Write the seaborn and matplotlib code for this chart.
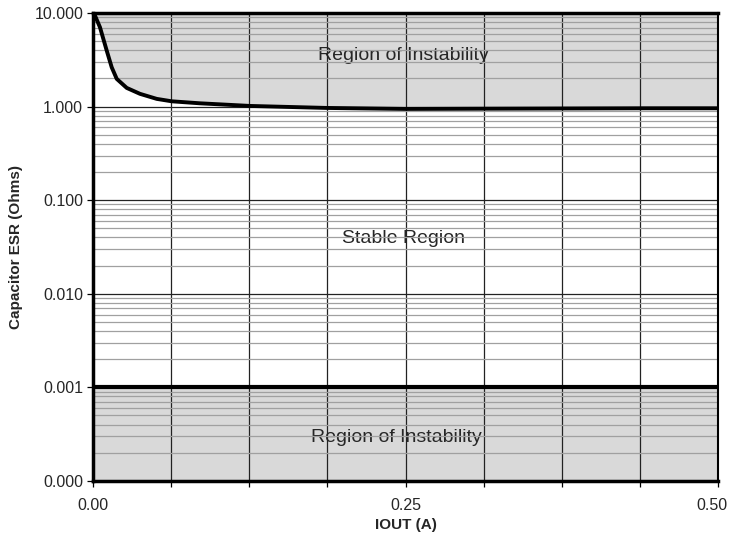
import numpy as np
import pandas as pd
import seaborn as sns
import matplotlib.pyplot as plt
import matplotlib.transforms as mtransforms
from matplotlib.ticker import FormatStrFormatter, MultipleLocator, LogLocator

# boundary curve
iout = [0.0, 0.0016, 0.0056, 0.011, 0.015, 0.019, 0.027, 0.0376, 0.051, 0.063,
        0.0856, 0.1256, 0.187, 0.25, 0.31, 0.375, 0.44, 0.5]
esr = [10.0, 9.4, 7.05, 3.97, 2.63, 1.98, 1.585, 1.37, 1.21, 1.14,
       1.085, 1.017, 0.968, 0.945, 0.95, 0.955, 0.96, 0.96]
esr_min = 0.001
y_lo, y_hi = 0.0001, 10.0

sns.set_style("white")
plt.rcParams['font.family'] = ['Liberation Sans', 'DejaVu Sans']

df = pd.DataFrame({"iout": iout, "esr": esr})

fig = plt.figure(figsize=(7.32, 5.44), dpi=100)
ax = fig.add_axes([0.127, 0.116, 0.854, 0.860])

shade = "#d9d9d9"
ax.fill_between(df["iout"], df["esr"], y_hi, color=shade, lw=0, zorder=0)
ax.fill_between([0, 0.5], y_lo, esr_min, color=shade, lw=0, zorder=0)

ax.set_yscale("log")
ax.set_xlim(0, 0.5)
ax.set_ylim(y_lo, y_hi)

ax.text(0.248, 3.5, "Region of Instability", ha="center", va="center", fontsize=14, zorder=0.5)
ax.text(0.248, 0.0388, "Stable Region", ha="center", va="center", fontsize=14, zorder=0.5)
ax.text(0.243, 0.000288, "Region of Instability", ha="center", va="center", fontsize=14, zorder=0.5)

ax.yaxis.set_major_locator(LogLocator(base=10, numticks=10))
ax.yaxis.set_minor_locator(LogLocator(base=10, subs=np.arange(2, 10), numticks=20))
ax.yaxis.set_major_formatter(FormatStrFormatter("%.3f"))
ax.xaxis.set_major_locator(MultipleLocator(0.25))
ax.xaxis.set_minor_locator(MultipleLocator(0.0625))
ax.xaxis.set_major_formatter(FormatStrFormatter("%.2f"))

ax.grid(True, which="major", axis="y", color="#222222", lw=0.9, zorder=1)
ax.grid(True, which="minor", axis="y", color="#a0a0a0", lw=0.9, zorder=1)
ax.grid(True, which="both", axis="x", color="#222222", lw=0.9, zorder=1)
ax.set_axisbelow(False)

sns.lineplot(data=df, x="iout", y="esr", color="black", lw=2.8, ax=ax, zorder=3)
ax.axhline(esr_min, color="black", lw=3, zorder=3)

ax.tick_params(axis="both", which="major", direction="out", length=4, width=0.9,
               color="black", labelsize=11.5, left=True, bottom=True)
ax.tick_params(axis="y", which="major", pad=3)
ax.tick_params(axis="x", which="major", pad=8)
ax.tick_params(axis="x", which="minor", direction="out", length=4, width=0.9,
               color="black", bottom=True)
ax.tick_params(axis="y", which="minor", left=False)

for side, w in [("left", 2.5), ("bottom", 2.5), ("top", 2.5), ("right", 1.5)]:
    ax.spines[side].set_visible(True)
    ax.spines[side].set_linewidth(w)
    ax.spines[side].set_color("black")
    ax.spines[side].set_zorder(4)

ax.set_xlabel("IOUT (A)", fontsize=11, fontweight="bold", labelpad=4)
ax.set_ylabel("Capacitor ESR (Ohms)", fontsize=11, fontweight="bold", labelpad=8)

# last x label sits right at the figure edge; nudge it in a little
fig.canvas.draw()
shift = mtransforms.ScaledTranslation(-6 / 100, 0, fig.dpi_scale_trans)
for t in ax.xaxis.get_major_ticks():
    if abs(t.get_loc() - 0.5) < 1e-9:
        t.label1.set_transform(t.label1.get_transform() + shift)

fig.savefig("out.png", dpi=100)
